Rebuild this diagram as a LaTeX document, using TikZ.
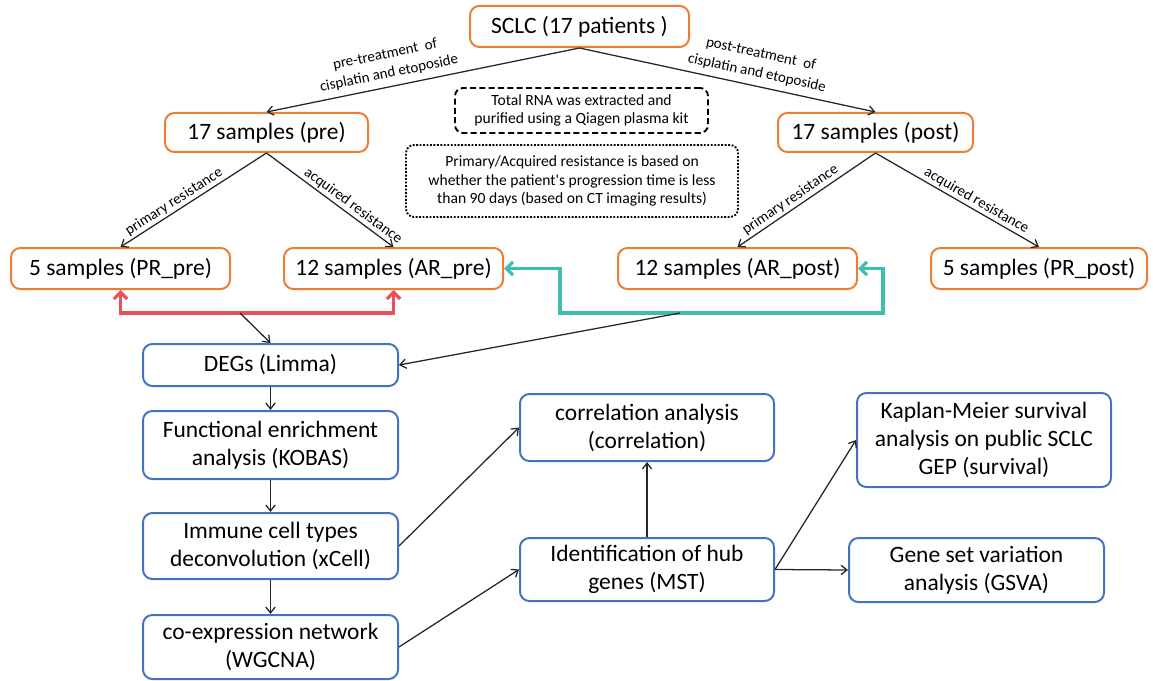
\documentclass[tikz,border=0pt]{standalone}
\usepackage{fontspec}
\setmainfont{Carlito}
\usetikzlibrary{arrows.meta}
\definecolor{borange}{HTML}{ED7D31}
\definecolor{bblue}{HTML}{4472C4}
\definecolor{cred}{HTML}{E8505B}
\definecolor{cteal}{HTML}{3DBFAD}
\definecolor{cline}{HTML}{262626}
\begin{document}
\begin{tikzpicture}[x=0.75pt,y=-0.75pt,
  box/.style={draw, line width=1.5pt, rounded corners=7pt, inner sep=0pt, align=center, font=\fontsize{17.6}{21}\selectfont},
  obox/.style={box, draw=borange},
  bbox/.style={box, draw=bblue},
  sz/.style 2 args={minimum width={#1*0.75pt}, minimum height={#2*0.75pt}},
  note/.style={draw=black, line width=1.4pt, rounded corners=6pt, align=center, inner sep=0pt, font=\fontsize{11.7}{14}\selectfont},
  arr/.style={draw=cline, line width=0.95pt, -{Straight Barb[length=4.5pt,width=7pt]}},
  lab/.style={font=\fontsize{11.25}{14.5}\selectfont, sloped, anchor=south, inner sep=1.5pt, align=center, text=black},
  redc/.style={draw=cred, line width=2.5pt, {Straight Barb[length=5pt,width=10pt]}-{Straight Barb[length=5pt,width=10pt]}},
  tealc/.style={draw=cteal, line width=2.5pt, {Straight Barb[length=5pt,width=10pt]}-{Straight Barb[length=5pt,width=10pt]}}
]
\useasboundingbox (0,0) rectangle (1153,681);

% top row
\node[obox, sz={219}{41}] (sclc) at (579.5,26.5) {SCLC (17 patients )};
\node[obox, sz={203}{39}] (pre) at (266.5,132.5) {17 samples (pre)};
\node[obox, sz={195}{39}] (post) at (875.5,132.5) {17 samples (post)};

% notes
\node[note, dashed, dash pattern=on 4.5pt off 2.5pt, sz={253}{45}] (rna) at (581.5,110.5) {Total RNA was extracted and\\purified using a Qiagen plasma kit};
\node[note, dotted, dash pattern=on 1.4pt off 1.2pt, sz={332}{72}] (res) at (572,181) {Primary/Acquired resistance is based on\\whether the patient\textquotesingle s progression time is less\\than 90 days (based on CT imaging results)};

% sample groups
\node[obox, sz={219}{41}] (prpre) at (120.5,268.5) {5 samples (PR\_pre)};
\node[obox, sz={219}{41}] (arpre) at (393.5,268.5) {12 samples (AR\_pre)};
\node[obox, sz={239}{41}] (arpost) at (737.5,268.5) {12 samples (AR\_post)};
\node[obox, sz={216}{41}] (prpost) at (1039,268.5) {5 samples (PR\_post)};

% analysis column
\node[bbox, sz={255}{42}] (degs) at (270.5,365) {DEGs (Limma)};
\node[bbox, sz={255}{68}] (func) at (270.5,445) {Functional enrichment\\analysis (KOBAS)};
\node[bbox, sz={255}{66}] (imm) at (270.5,546) {Immune cell types\\deconvolution (xCell)};
\node[bbox, sz={255}{64}] (coex) at (270.5,647) {co-expression network\\(WGCNA)};
\node[bbox, sz={254}{67}] (corr) at (647,427.5) {correlation analysis\\(correlation)};
\node[bbox, sz={254}{63}] (hub) at (647,569.5) {Identification of hub\\genes (MST)};
\node[bbox, sz={254}{94}] (km) at (984,440) {Kaplan-Meier survival\\analysis on public SCLC\\GEP (survival)};
\node[bbox, sz={255}{64}] (gsva) at (976.5,570) {Gene set variation\\analysis (GSVA)};

% top connectors
\draw[arr] (sclc.south) -- node[lab, pos=0.6, yshift=3pt] {pre-treatment\ \ of\\cisplatin and etoposide} (pre.north);
\draw[arr] (sclc.south) -- node[lab, pos=0.59, yshift=3pt] {post-treatment\ \ of\\cisplatin and etoposide} (post.north);
\draw[arr] (pre.south) -- node[lab, pos=0.6] {primary resistance} (prpre.north);
\draw[arr] (pre.south) -- node[lab, pos=0.64] {acquired resistance} (arpre.north);
\draw[arr] (post.south) -- node[lab, pos=0.58] {primary resistance} (arpost.north);
\draw[arr] (post.south) -- node[lab, pos=0.59] {acquired resistance} (prpost.north);

% comparison brackets
\coordinate (rm) at (240,313);
\coordinate (t1) at (560,313);
\coordinate (tm) at (680,313);
\coordinate (t2) at (883,313);
\draw[redc] (prpre.south) |- (rm) -| (arpre.south);
\draw[tealc] (arpre.east) -| (t1) -- (t2) |- (arpost.east);
\draw[arr] (rm) -- (degs.north);
\draw[arr] (tm) -- (degs.east);

% analysis flow
\draw[arr] (degs) -- (func);
\draw[arr] (func) -- (imm);
\draw[arr] (imm) -- (coex);
\draw[arr] (imm.east) -- (corr.west);
\draw[arr] (coex.east) -- (hub.west);
\draw[arr] (hub) -- (corr);
\draw[arr] (hub.east) -- (km.west);
\draw[arr] (hub.east) -- (gsva.west);
\end{tikzpicture}
\end{document}
